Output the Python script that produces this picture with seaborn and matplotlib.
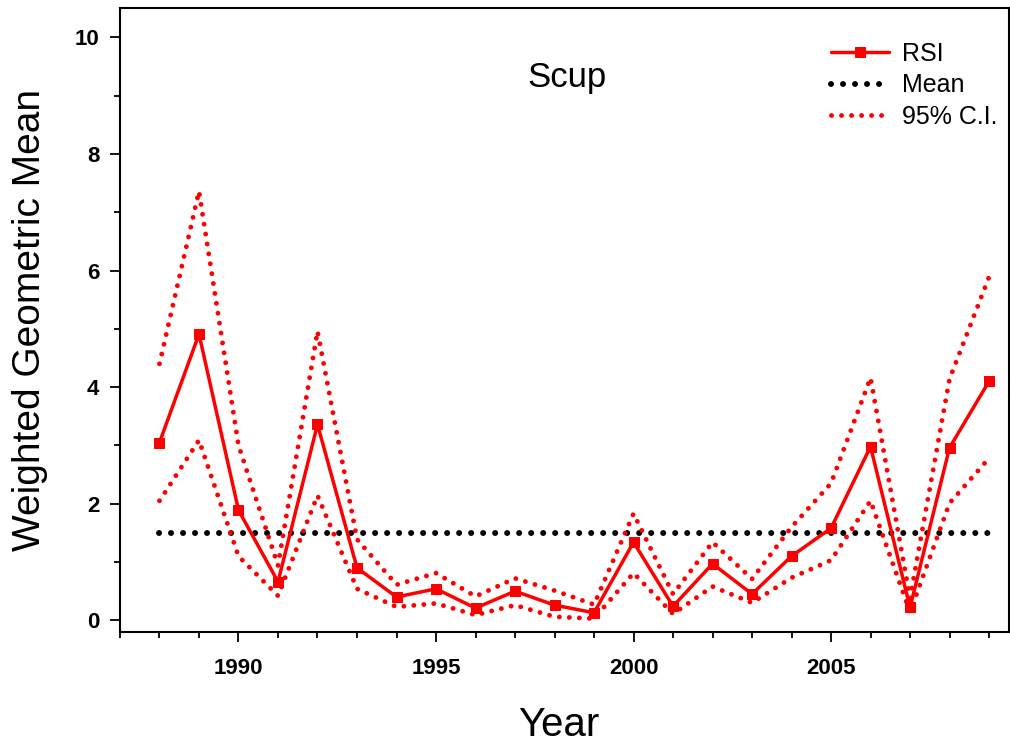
import matplotlib
matplotlib.use("Agg")
import matplotlib.pyplot as plt
from matplotlib.ticker import MultipleLocator
import seaborn as sns
import pandas as pd

years = list(range(1988, 2010))
rsi = [3.05, 4.91, 1.89, 0.66, 3.36, 0.90, 0.40, 0.54, 0.21, 0.50, 0.26,
       0.13, 1.34, 0.24, 0.97, 0.45, 1.10, 1.58, 2.98, 0.22, 2.96, 4.10]
upper_ci = [4.40, 7.36, 3.00, 0.94, 4.96, 1.39, 0.61, 0.81, 0.41, 0.72, 0.51,
            0.27, 1.83, 0.45, 1.34, 0.71, 1.60, 2.35, 4.16, 0.38, 4.14, 5.89]
lower_ci = [2.05, 3.09, 1.10, 0.42, 2.14, 0.54, 0.23, 0.29, 0.09, 0.26, 0.06,
            0.03, 0.81, 0.11, 0.58, 0.30, 0.73, 1.03, 2.05, 0.14, 2.01, 2.78]
mean_value = 1.49

title = "Scup"
xlabel = "Year"
ylabel = "Weighted Geometric Mean"

df = pd.DataFrame({"Year": years, "RSI": rsi, "Upper": upper_ci,
                   "Lower": lower_ci, "Mean": [mean_value] * len(years)})

sns.set_style("ticks")
plt.rcParams["font.family"] = ["Liberation Sans", "DejaVu Sans"]
for k in ["text.color", "axes.labelcolor", "xtick.color", "ytick.color",
          "axes.edgecolor"]:
    plt.rcParams[k] = "black"

fig = plt.figure(figsize=(10.10, 7.47), dpi=100)
ax = fig.add_axes([0.1188, 0.154, 0.880, 0.835])

red = "#ff0000"
dot_ci = (0, (0.01, 2.05))
dot_mean = (0, (0.01, 2.0))

sns.lineplot(data=df, x="Year", y="Mean", ax=ax, color="black", lw=4.3,
             linestyle=dot_mean, dash_capstyle="round", label="Mean", zorder=2)
sns.lineplot(data=df, x="Year", y="Upper", ax=ax, color=red, lw=3.5,
             linestyle=dot_ci, dash_capstyle="round", label="95% C.I.", zorder=3)
sns.lineplot(data=df, x="Year", y="Lower", ax=ax, color=red, lw=3.5,
             linestyle=dot_ci, dash_capstyle="round", label="_nolegend_", zorder=3)
sns.lineplot(data=df, x="Year", y="RSI", ax=ax, color=red, lw=2.5,
             marker="s", markersize=6.5, markeredgecolor=red, label="RSI", zorder=4)

ax.set_xlim(1987, 2009.5)
ax.set_ylim(-0.2, 10.5)
ax.xaxis.set_major_locator(MultipleLocator(5))
ax.xaxis.set_minor_locator(MultipleLocator(1))
ax.yaxis.set_major_locator(MultipleLocator(2))
ax.yaxis.set_minor_locator(MultipleLocator(1))
ax.tick_params(which="major", direction="out", length=7, width=1.3,
               labelsize=16, colors="black", pad=12)
ax.tick_params(which="minor", direction="out", length=4.5, width=1.3)
ax.tick_params(axis="y", which="major", pad=8)
for lab in ax.get_xticklabels() + ax.get_yticklabels():
    lab.set_fontweight("bold")
for sp in ax.spines.values():
    sp.set_visible(True)
    sp.set_linewidth(1.5)
    sp.set_color("black")

ax.set_xlabel(xlabel, fontsize=29)
ax.xaxis.set_label_coords(0.494, -0.118)
ax.set_ylabel(ylabel, fontsize=28)
ax.yaxis.set_label_coords(-0.081, 0.50)
ax.text(0.503, 0.889, title, transform=ax.transAxes, fontsize=25,
        ha="center", va="center")

handles, labels = ax.get_legend_handles_labels()
order = [labels.index(k) for k in ["RSI", "Mean", "95% C.I."]]
leg = ax.legend([handles[i] for i in order], [labels[i] for i in order],
                loc="upper right", bbox_to_anchor=(0.987, 0.946), frameon=False,
                fontsize=18, handlelength=2.3, handletextpad=0.52,
                labelspacing=0.3, borderpad=0, borderaxespad=0)

fig.savefig("out.png", dpi=100)
